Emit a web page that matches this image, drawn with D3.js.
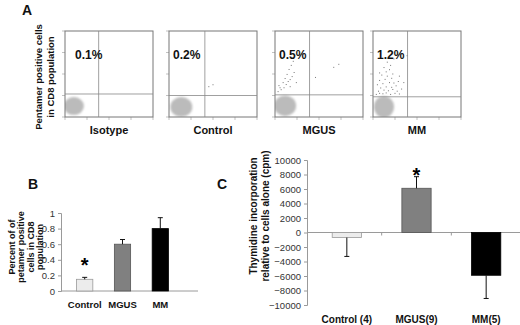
<!DOCTYPE html>
<html>
<head>
<meta charset="utf-8">
<script src="https://cdn.jsdelivr.net/npm/d3@7"></script>
<style>
  body { margin: 0; background: #fff; }
  svg { display: block; font-family: "Liberation Sans", Arial, sans-serif; }
</style>
</head>
<body>
<div id="chart"></div>
<script>
// ---- panel A: flow plots (axes in log decades 0..4) ----
const flowSamples = ['Isotype', 'Control', 'MGUS', 'MM'];
const flowPercents = ['0.1%', '0.2%', '0.5%', '1.2%'];
const flowGateX = [1.53, 1.63, 1.57, 1.57];
const flowGateY = [1.07, 1.0, 1.03, 0.94];
// main negative cloud: centre x, centre y, radius x, radius y (decades)
const cloudX = [0.4, 0.56, 0.46, 0.5];
const cloudY = [0.51, 0.47, 0.52, 0.47];
const cloudRx = [0.46, 0.5, 0.5, 0.46];
const cloudRy = [0.42, 0.46, 0.48, 0.5];
const isotypeDots = [];
const controlDots = [[1.81, 1.41], [2.0, 1.5]];
const mgusDots = [
  [0.14, 1.18], [0.28, 1.27], [0.41, 1.36], [0.18, 1.46], [0.51, 1.51], [0.37, 1.6],
  [0.6, 1.65], [0.69, 1.74], [0.46, 1.79], [0.78, 1.88], [0.55, 1.98], [0.87, 2.07],
  [0.64, 2.21], [0.74, 2.4], [0.83, 2.59], [0.23, 1.36], [0.97, 1.6], [0.69, 1.41],
  [1.84, 1.84], [2.67, 2.31], [2.9, 2.45]
];
const mmDots = [
  [0.15, 1.05], [0.3, 1.1], [0.45, 1.08], [0.6, 1.12], [0.8, 1.05], [1.0, 1.1], [1.2, 1.07],
  [0.25, 1.2], [0.5, 1.25], [0.7, 1.22], [0.9, 1.28], [1.1, 1.2], [0.35, 1.35], [0.6, 1.4],
  [0.85, 1.38], [1.05, 1.45], [0.2, 1.5], [0.45, 1.55], [0.75, 1.6], [0.95, 1.58], [0.3, 1.7],
  [0.55, 1.75], [0.85, 1.8], [0.65, 1.9], [0.4, 1.95], [0.9, 2.0], [0.6, 2.1], [0.75, 2.2],
  [0.5, 2.3], [0.8, 2.4], [0.65, 2.55], [1.3, 1.3], [1.4, 1.6], [1.2, 1.9], [1.55, 2.85],
  [0.95, 2.7], [0.3, 2.05], [1.15, 1.65]
];
const flowDots = [isotypeDots, controlDots, mgusDots, mmDots];
const flowLeft = [65, 169, 275, 373];

// ---- panel B ----
const bCategories = ['Control', 'MGUS', 'MM'];
const bValues = [0.15, 0.6, 0.8];
const bErrors = [0.025, 0.06, 0.14];
const bTicks = [0, 0.2, 0.4, 0.6, 0.8, 1];

// ---- panel C ----
const cCategories = ['Control (4)', 'MGUS(9)', 'MM(5)'];
const cValues = [-700, 6100, -5900];
const cErrors = [2600, 1600, 3200];
const cTicks = d3.range(-10000, 10001, 2000);

const barFill = ['#ececec', '#808080', '#000000'];
const barStroke = ['#9a9a9a', '#555555', '#000000'];
const axisColor = '#9a9a9a';

const svg = d3.select('#chart').append('svg').attr('width', 520).attr('height', 325);

const defs = svg.append('defs');
defs.append('filter').attr('id', 'soft')
  .attr('x', '-50%').attr('y', '-50%').attr('width', '200%').attr('height', '200%')
  .append('feGaussianBlur').attr('stdDeviation', 1.2);

// panel letters
const letters = [['A', 22, 15], ['B', 28, 189], ['C', 217, 189]];
svg.selectAll('.letter').data(letters).join('text')
  .attr('class', 'letter')
  .attr('x', (d) => d[1]).attr('y', (d) => d[2])
  .attr('font-size', 14).attr('font-weight', 'bold').attr('fill', '#111')
  .text((d) => d[0]);

// ---- panel A ----
const boxW = 88, boxTop = 31, boxBottom = 117;
const aLabel = svg.append('text')
  .attr('transform', 'translate(45,77) rotate(-90)')
  .attr('text-anchor', 'middle').attr('font-size', 9.5).attr('font-weight', 'bold').attr('fill', '#111');
aLabel.append('tspan').attr('x', 0).attr('dy', '-0.3em').text('Pentamer positive cells');
aLabel.append('tspan').attr('x', 0).attr('dy', '1.3em').text('in CD8 population');

flowSamples.forEach((name, i) => {
  const x = d3.scaleLinear().domain([0, 4]).range([flowLeft[i], flowLeft[i] + boxW]);
  const y = d3.scaleLinear().domain([0, 4]).range([boxBottom, boxTop]);
  const g = svg.append('g');
  const clipId = `clip${i}`;
  defs.append('clipPath').attr('id', clipId).append('rect')
    .attr('x', x(0)).attr('y', y(4)).attr('width', boxW).attr('height', boxBottom - boxTop);

  // tick marks on both axes
  const decs = [0, 1, 2, 3, 4];
  g.selectAll('.ty').data(decs).join('line')
    .attr('x1', x(0) - 3).attr('x2', x(0)).attr('y1', (d) => y(d)).attr('y2', (d) => y(d))
    .attr('stroke', '#999').attr('stroke-width', 0.6);
  g.selectAll('.tx').data(decs).join('line')
    .attr('y1', y(0)).attr('y2', y(0) + 3).attr('x1', (d) => x(d)).attr('x2', (d) => x(d))
    .attr('stroke', '#999').attr('stroke-width', 0.6);

  const inner = g.append('g').attr('clip-path', `url(#${clipId})`);
  inner.append('ellipse')
    .attr('cx', x(cloudX[i])).attr('cy', y(cloudY[i]))
    .attr('rx', x(cloudRx[i]) - x(0)).attr('ry', y(0) - y(cloudRy[i]))
    .attr('fill', '#bbbbbb').attr('filter', 'url(#soft)');
  inner.selectAll('.dot').data(flowDots[i]).join('rect')
    .attr('x', (d) => x(d[0]) - 0.5).attr('y', (d) => y(d[1]) - 0.5)
    .attr('width', 1).attr('height', 1).attr('fill', '#777');

  g.append('rect')
    .attr('x', x(0)).attr('y', y(4)).attr('width', boxW).attr('height', boxBottom - boxTop)
    .attr('fill', 'none').attr('stroke', '#777').attr('stroke-width', 1);
  g.append('line')
    .attr('x1', x(flowGateX[i])).attr('x2', x(flowGateX[i])).attr('y1', y(4)).attr('y2', y(0))
    .attr('stroke', '#888').attr('stroke-width', 0.8);
  g.append('line')
    .attr('x1', x(0)).attr('x2', x(4)).attr('y1', y(flowGateY[i])).attr('y2', y(flowGateY[i]))
    .attr('stroke', '#888').attr('stroke-width', 0.8);

  g.append('text')
    .attr('x', x(0) + (i === 0 ? 10 : 4)).attr('y', 59)
    .attr('font-size', 12).attr('font-weight', 'bold').attr('fill', '#111')
    .text(flowPercents[i]);
  g.append('text')
    .attr('x', x(0) + boxW / 2).attr('y', 134)
    .attr('text-anchor', 'middle').attr('font-size', 11).attr('font-weight', 'bold').attr('fill', '#111')
    .text(name);
});

// ---- panel B ----
const bx = d3.scaleBand().domain(bCategories).range([66, 179]).paddingInner(0.57).paddingOuter(0.28);
const by = d3.scaleLinear().domain([0, 1]).range([291, 213]);
const gB = svg.append('g');
gB.append('line').attr('x1', 61).attr('x2', 198).attr('y1', by(0)).attr('y2', by(0)).attr('stroke', axisColor);
gB.append('g').attr('transform', 'translate(61,0)')
  .call(d3.axisLeft(by).tickValues(bTicks).tickSize(3).tickFormat(d3.format('')))
  .call((s) => s.select('.domain').attr('stroke', axisColor))
  .call((s) => s.selectAll('line').attr('stroke', axisColor))
  .call((s) => s.selectAll('text').attr('font-size', 9.5).attr('fill', '#333')
    .attr('font-family', '"Liberation Sans", Arial, sans-serif'));
gB.selectAll('.bar').data(bValues).join('rect')
  .attr('x', (d, i) => bx(bCategories[i])).attr('width', bx.bandwidth())
  .attr('y', (d) => by(d)).attr('height', (d) => by(0) - by(d))
  .attr('fill', (d, i) => barFill[i]).attr('stroke', (d, i) => barStroke[i]).attr('stroke-width', 0.8);
bValues.forEach((v, i) => {
  const cx = bx(bCategories[i]) + bx.bandwidth() / 2;
  gB.append('line').attr('x1', cx).attr('x2', cx).attr('y1', by(v)).attr('y2', by(v + bErrors[i]))
    .attr('stroke', '#111').attr('stroke-width', 1);
  gB.append('line').attr('x1', cx - 2.5).attr('x2', cx + 2.5)
    .attr('y1', by(v + bErrors[i])).attr('y2', by(v + bErrors[i]))
    .attr('stroke', '#111').attr('stroke-width', 1);
  gB.append('text').attr('x', cx).attr('y', 308).attr('text-anchor', 'middle')
    .attr('font-size', 9.5).attr('font-weight', 'bold').attr('fill', '#111').text(bCategories[i]);
});
gB.append('text').attr('x', bx('Control') + bx.bandwidth() / 2).attr('y', by(0.15) - 7)
  .attr('text-anchor', 'middle').attr('font-size', 20).attr('font-weight', 'bold').text('*');
const bLabel = gB.append('text').attr('transform', 'translate(24,247) rotate(-90)')
  .attr('text-anchor', 'middle').attr('font-size', 9).attr('font-weight', 'bold').attr('fill', '#111');
['Percent of of', 'petamer positive', 'cells in CD8', 'population'].forEach((t, i) => {
  bLabel.append('tspan').attr('x', 0).attr('dy', i === 0 ? '-1.0em' : '1.05em').text(t);
});

// ---- panel C ----
const cx0 = 307;
const cxs = d3.scaleBand().domain(cCategories).range([312, 521]).paddingInner(0.58).paddingOuter(0.29);
const cy = d3.scaleLinear().domain([-10000, 10000]).range([305, 160]);
const gC = svg.append('g');
gC.append('g').attr('transform', `translate(${cx0},0)`)
  .call(d3.axisLeft(cy).tickValues(cTicks).tickSize(3).tickFormat(d3.format('')))
  .call((s) => s.select('.domain').attr('stroke', axisColor))
  .call((s) => s.selectAll('line').attr('stroke', axisColor))
  .call((s) => s.selectAll('text').attr('font-size', 9.5).attr('fill', '#333')
    .attr('font-family', '"Liberation Sans", Arial, sans-serif'));
gC.append('line').attr('x1', cx0).attr('x2', 520).attr('y1', cy(0)).attr('y2', cy(0)).attr('stroke', axisColor);
const bounds = cCategories.map((c) => cxs(c) + cxs.bandwidth() / 2 + cxs.step() / 2);
gC.selectAll('.ct').data(bounds).join('line')
  .attr('x1', (d) => d).attr('x2', (d) => d).attr('y1', cy(0)).attr('y2', cy(0) + 3).attr('stroke', axisColor);
gC.selectAll('.bar').data(cValues).join('rect')
  .attr('x', (d, i) => cxs(cCategories[i])).attr('width', cxs.bandwidth())
  .attr('y', (d) => cy(Math.max(0, d))).attr('height', (d) => Math.abs(cy(d) - cy(0)))
  .attr('fill', (d, i) => barFill[i]).attr('stroke', (d, i) => barStroke[i]).attr('stroke-width', 0.8);
cValues.forEach((v, i) => {
  const mx = cxs(cCategories[i]) + cxs.bandwidth() / 2;
  const end = v + Math.sign(v) * cErrors[i];
  gC.append('line').attr('x1', mx).attr('x2', mx).attr('y1', cy(v)).attr('y2', cy(end))
    .attr('stroke', '#111').attr('stroke-width', 1);
  gC.append('line').attr('x1', mx - 2.5).attr('x2', mx + 2.5).attr('y1', cy(end)).attr('y2', cy(end))
    .attr('stroke', '#111').attr('stroke-width', 1);
  gC.append('text').attr('x', mx).attr('y', 323).attr('text-anchor', 'middle')
    .attr('font-size', 10).attr('font-weight', 'bold').attr('fill', '#111').text(cCategories[i]);
});
gC.append('text').attr('x', cxs('MGUS(9)') + cxs.bandwidth() / 2).attr('y', cy(6100 + 1600) + 5)
  .attr('text-anchor', 'middle').attr('font-size', 20).attr('font-weight', 'bold').text('*');
const cLabel = gC.append('text').attr('transform', 'translate(260,216) rotate(-90)')
  .attr('text-anchor', 'middle').attr('font-size', 10).attr('font-weight', 'bold').attr('fill', '#111');
cLabel.append('tspan').attr('x', 0).attr('dy', '-0.3em').text('Thymidine incorporation');
cLabel.append('tspan').attr('x', 0).attr('dy', '1.2em').text('relative to cells alone (cpm)');
</script>
</body>
</html>
